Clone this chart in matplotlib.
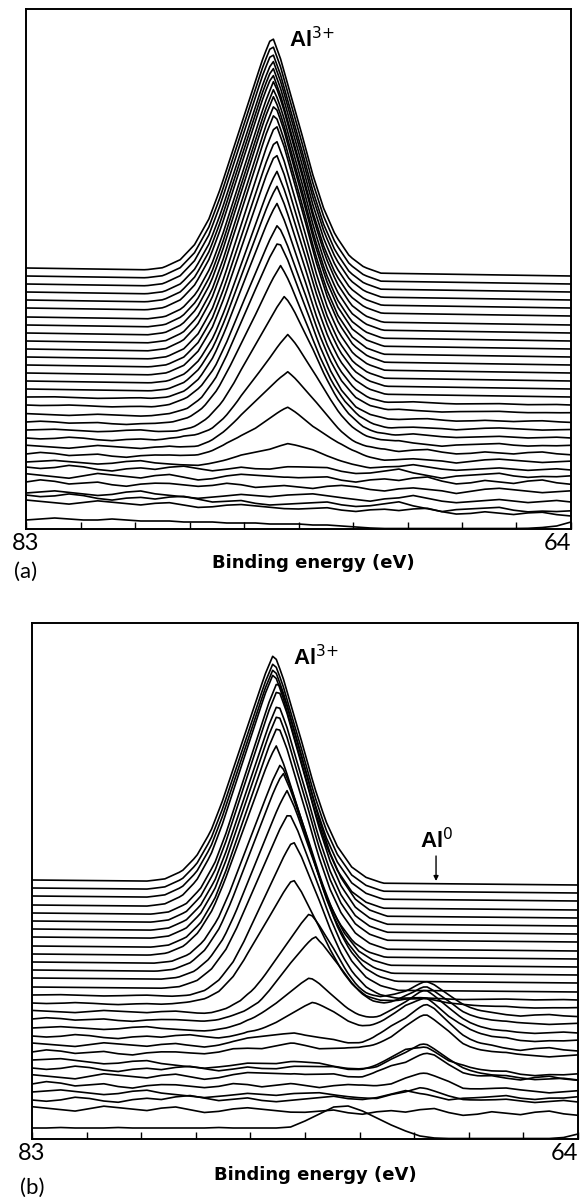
#!/usr/bin/env python3
"""Stacked Al 2p XPS spectra, panels (a) and (b). Per-trace offsets, peak heights and positions
read off the scanned figure; intensities in arbitrary units (offset stack)."""
import numpy as np, matplotlib
matplotlib.use("Agg"); import matplotlib.pyplot as plt

# energy grid (eV) on which the noise and the two bottom traces were read: 83 -> 64, 0.5 eV steps
grid_e = [83.0 - 0.5 * k for k in range(39)]

# normalised peak line shape (offset from peak centre, eV)
peak_dx = [-3.8, -3.2, -2.7, -2.2, -1.8, -1.4, -1.0, -0.6, -0.3, 0.0, 0.3, 0.6, 1.0, 1.4, 1.8, 2.2, 2.7, 3.2, 3.8, 4.4]
peak_shape = [0, 0.025, 0.07, 0.16, 0.27, 0.42, 0.60, 0.77, 0.90, 1.0, 0.91, 0.80, 0.65, 0.50, 0.35, 0.22, 0.11,
              0.045, 0.01, 0]

# noise patterns seen on the low traces (on grid_e)
wiggle_1 = [0, 1, 2, 1, 0, -1, 0, 2, 3, 1, 0, -1, -2, -1, 0, 1, 0, -1, 0, 1, 2, 1, 0, -1, -2, 0, 1, 3, 1, -1, -2, -1, 0, 1, 0, -1, 0, 1, 0]
wiggle_2 = [0, -1, 0, 2, 1, -1, -2, 0, 1, 0, 2, 3, 1, -1, 0, 1, -1, -2, -1, 0, 1, 2, 0, -1, 0, 2, 4, 1, -1, -3, -1, 0, 1, 2, 0, -1, 0, 0, 1]
wiggle_3 = [1, 0, -1, -2, 0, 2, 1, 0, -1, 1, 2, 0, -2, -1, 1, 2, 1, 0, -1, -1, 0, 1, -1, -2, 0, 1, 0, 2, 3, 0, -2, -1, 1, 0, -1, 1, 2, 0, -1]
wiggle_4 = [0, 2, 1, -1, 0, 1, -1, -2, 0, 1, 1, 0, -1, 0, 2, 1, -1, 0, 1, 0, -1, 1, 2, 1, -1, -2, 0, 1, 0, -1, -3, -1, 1, 2, 1, 0, -1, 0, 1]

# ---- panel (a): offset at 83 eV, change of offset across to 64 eV, Al3+ height, Al3+ position, noise level
a_base = [261, 253, 245, 237, 229, 221, 212, 204, 196, 188, 180, 172, 164, 156, 148, 140, 132, 124, 115, 107,
          99, 91, 83, 75, 67, 62, 54, 47, 36, 34, 28]
a_tilt = [-8] * 25 + [-10, -8, -10, -9, -17, -14]
a_amp = [236, 236, 236, 236, 237, 238, 240, 240, 241, 241, 240, 237, 230, 224, 214, 207, 198, 185, 177, 160,
         138, 108, 79, 50, 22, 6, 3, 0, 2, 0, 0]
a_center = [74.42, 74.42, 74.42, 74.40, 74.40, 74.40, 74.36, 74.36, 74.36, 74.33, 74.33, 74.29, 74.29, 74.29,
            74.26, 74.26, 74.26, 74.22, 74.19, 74.12, 73.98, 73.87, 73.87, 73.87, 73.87, 73.9, 73.9, 73.9, 73.9,
            73.9, 73.9]
a_noise = [0] * 16 + [0.3, 0.3, 0.4, 0.5, 0.6, 0.7, 0.8, 0.9, 1.0, 1.2, 1.3, 1.2, 1.3, 1.2, 1.0]
a_bottom = [9, 10, 11, 10, 9, 9, 10, 9, 8, 8, 8, 7, 7, 7, 6, 6, 6, 5, 5, 5, 4, 4, 3, 2, 1, 0.5, 0.5, 0.5, 0.5, 0.5,
            0.5, 0.5, 0.5, 0.5, 0.5, 0.7, 1.5, 3, 7]

# ---- panel (b): as (a) plus Al3+ width factor and Al0 height
b_base = [259, 251, 243, 234, 226, 218, 210, 202, 193, 185, 177, 169, 161, 152, 144, 136, 128, 120, 111, 103,
          95, 87, 79, 71, 63, 55, 47, 39, 31]
b_tilt = [-5] * 20 + [-6, -4, -20, -7, -3, -8, -10, 2, -6]
b_amp3 = [229, 229, 231, 235, 235, 235, 228, 226, 223, 211, 201, 200, 190, 177, 157, 127, 101, 86, 52, 36,
          15, 10, 8, 6, 5, 3, 3, 0, 0]
b_c3 = [74.58, 74.58, 74.58, 74.58, 74.44, 74.44, 74.44, 74.44, 74.44, 74.51, 74.34, 74.27, 74.13, 74.06,
        73.92, 73.92, 73.33, 73.15, 73.33, 73.22, 73.9, 73.9, 73.95, 73.9, 73.85, 73.9, 73.9, 73.9, 73.9]
b_w3 = [1.0] * 14 + [0.95, 0.95, 0.9, 0.9, 0.9, 0.9] + [1.0] * 9
b_amp0 = [0] * 15 + [8, 32, 36, 40, 42, 42, 40, 28, 26, 22, 16, 8, 4, 0]
b_noise = [0] * 14 + [0.3, 0.4, 0.6, 0.7, 0.8, 0.9, 1.0, 1.1, 1.2, 1.2, 1.3, 1.3, 1.3, 1.3, 1.3]
b_bottom = [11, 11, 11.5, 11, 11, 11, 11.5, 11, 11, 11, 11, 11, 11, 11.5, 11, 11, 11, 11,
            12, 18, 25, 32, 33, 28, 21, 14, 8, 3, 1, 0.5, 0.5, 0.5, 0.5, 0.5, 0.5, 0.5, 0.5, 1.5, 5]
E_AL0, W_AL0 = 69.3, 0.85

WIGS = [wiggle_1, wiggle_2, wiggle_3, wiggle_4]
E = np.linspace(83, 64, 153)
ge = np.array(grid_e)[::-1]
LW = 1.2

def peak(c, w):
    return np.interp(E - c, np.array(peak_dx) * w, peak_shape)

def noise(k, s):
    return s * np.interp(E, ge, np.array(WIGS[k % 4])[::-1])

def frame(ax, ymax):
    ax.set_xlim(83, 64); ax.set_ylim(0, ymax); ax.set_yticks([])
    ax.set_xticks(np.linspace(83, 64, 11))
    ax.set_xticklabels(["83"] + [""] * 9 + ["64"], fontsize=17, family=["Lato", "DejaVu Sans"])
    ax.get_xticklabels()[-1].set_horizontalalignment("right")
    ax.tick_params(axis="x", direction="in", length=5, width=1, pad=3)
    for s in ax.spines.values(): s.set_linewidth(1.4)

fig = plt.figure(figsize=(5.81, 11.97), dpi=100)
ax1 = fig.add_axes([26 / 581, 1 - 529 / 1197, 545 / 581, 520 / 1197])
ax2 = fig.add_axes([32 / 581, 1 - 1139 / 1197, 546 / 581, 516 / 1197])
ion = dict(fontsize=16, fontweight="bold", family=["Liberation Sans", "DejaVu Sans"], ha="left", va="baseline")

# (a)
for i in range(len(a_base)):
    y = a_base[i] + a_tilt[i] * (83 - E) / 19 + a_amp[i] * peak(a_center[i], 1.0) + noise(i, a_noise[i])
    ax1.plot(E, y, color="k", lw=LW)
ax1.plot(grid_e, a_bottom, color="k", lw=LW)
frame(ax1, 520)
ax1.text(73.83, 482, "Al$^{3{+}}$", **ion)

# (b)
for i in range(len(b_base)):
    y = b_base[i] + b_tilt[i] * (83 - E) / 19 + b_amp3[i] * peak(b_c3[i], b_w3[i])
    y = y + b_amp0[i] * peak(E_AL0, W_AL0) + noise(i + 2, b_noise[i])
    ax2.plot(E, y, color="k", lw=LW)
ax2.plot(grid_e, b_bottom, color="k", lw=LW)
frame(ax2, 516)
ax2.text(73.92, 474, "Al$^{3{+}}$", **ion)
ax2.text(69.5, 291, "Al$^{0}$", **ion)
ax2.annotate("", xy=(68.94, 258), xytext=(68.94, 283),
             arrowprops=dict(arrowstyle="-|>", color="k", lw=1, mutation_scale=7, shrinkA=0, shrinkB=0))

lab = dict(ha="center", va="center", fontsize=13, fontweight="bold")
fig.text(313 / 581, 1 - 563 / 1197, "Binding energy (eV)", **lab)
fig.text(315 / 581, 1 - 1175 / 1197, "Binding energy (eV)", **lab)
pl = dict(ha="center", va="center", fontsize=16, family=["Lato", "DejaVu Sans"])
fig.text(26 / 581, 1 - 572 / 1197, "(a)", **pl)
fig.text(32 / 581, 1 - 1188 / 1197, "(b)", **pl)

fig.savefig("out.png", dpi=100)
